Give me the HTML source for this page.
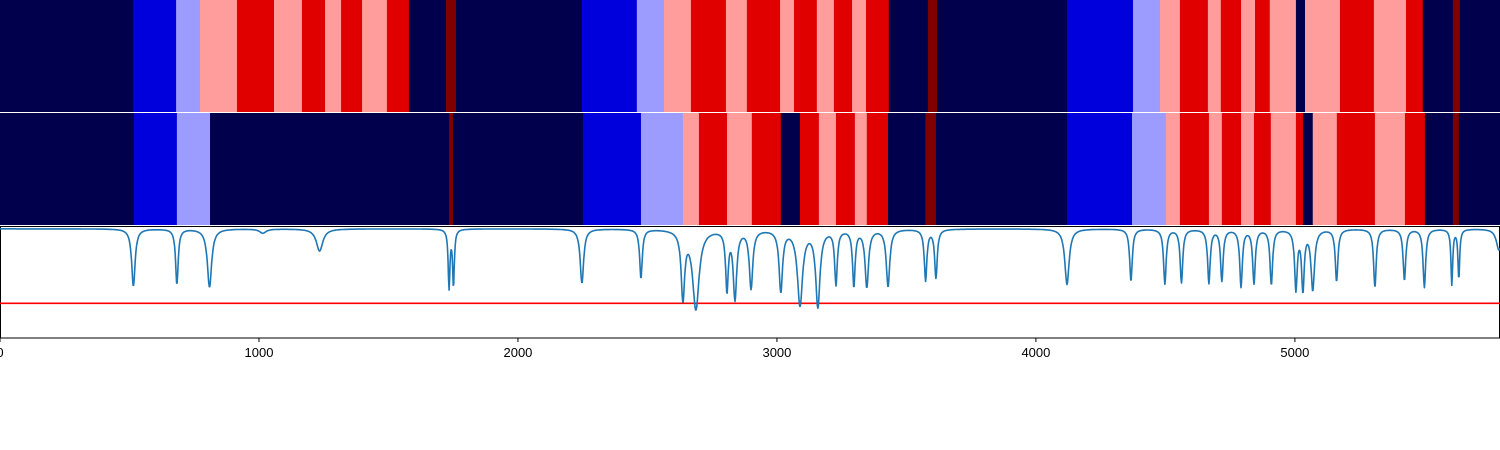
<!DOCTYPE html>
<html><head><meta charset="utf-8"><style>
body{margin:0;background:#fff;width:1500px;height:450px;overflow:hidden}
svg{display:block;font-family:"Liberation Sans",sans-serif}
</style></head><body>
<svg id="chart" width="1500" height="450" viewBox="0 0 1500 450">
<g id="row1"></g>
<g id="row2"></g>
<g id="linepanel"></g>
<g id="xaxis"></g>
</svg>
<script>
const row1Edges=[0,514,680,772,915,1058,1166,1255,1317,1398,1494,1579,1722,1761,2247,2459,2564,2668,2803,2884,3012,3066,3154,3220,3290,3344,3432,3583,3618,4120,4375,4479,4556,4664,4714,4792,4846,4903,5004,5039,5174,5305,5429,5494,5610,5637,5792];
const row1Classes=[0,1,2,3,4,3,4,3,4,3,4,0,5,0,1,2,3,4,3,4,3,4,3,4,3,4,0,5,0,1,2,3,4,3,4,3,4,3,0,3,4,3,4,0,5,0];
const row2Edges=[0,517,683,811,1734,1749,2251,2475,2637,2699,2807,2903,3015,3089,3162,3228,3301,3347,3429,3573,3614,4120,4371,4502,4556,4668,4718,4792,4842,4907,5004,5031,5069,5162,5309,5425,5502,5610,5633,5792];
const row2Classes=[0,1,2,0,5,0,1,2,3,4,3,4,0,4,3,4,3,4,0,5,0,1,2,3,4,3,4,3,4,3,4,0,3,4,3,4,0,5,0];
const peakPos=[515,683,809,1015,1234,1734,1751,2247,2475,2637,2687,2807,2838,2900,3015,3089,3158,3228,3297,3347,3429,3574,3614,4120,4367,4498,4562,4668,4718,4792,4842,4909,5004,5031,5069,5161,5309,5423,5500,5606,5633,5788];
const peakMin=[.464,.482,.455,.9375,.777,.455,.473,.491,.536,.375,.268,.446,.366,.455,.429,.304,.295,.491,.473,.464,.464,.518,.545,.478,.509,.486,.5,.495,.518,.464,.495,.482,.446,.446,.4375,.509,.455,.518,.455,.482,.536,.786];
const peakWidth=[8,6,10,15,15,4,4,8,6,8,15,6,8,8,8,12,10,6,6,8,8,6,6,10,6,6,6,6,6,6,6,6,6,6,8,6,6,6,6,4,4,12];
const baseline=0.975;
const threshold=0.31;
const xTicks=[0,1000,2000,3000,4000,5000];

const palette=['#00004c','#0000dd','#9c9cff','#ff9c9c','#e00000','#800000'];
const NS='http://www.w3.org/2000/svg';
const X0=0,X1=5792,PX0=0,PX1=1500;
const xs=v=>PX0+(v-X0)/(X1-X0)*(PX1-PX0);
const ys=v=>338-v*112;
function mk(tag,attrs,parent){const e=document.createElementNS(NS,tag);for(const k in attrs)e.setAttribute(k,attrs[k]);parent.appendChild(e);return e;}

function drawRow(g,edges,classes,y0,h,prefix){
  for(let i=0;i<classes.length;i++){
    const x=xs(edges[i]),w=xs(edges[i+1])-x;
    const r=mk('rect',{x:x,y:y0,width:w+0.5,height:h,fill:palette[classes[i]]},g);
    
    
  }
}
drawRow(document.getElementById('row1'),row1Edges,row1Classes,0,112,'row1');
drawRow(document.getElementById('row2'),row2Edges,row2Classes,113,112,'row2');

const lp=document.getElementById('linepanel');
const frame=mk('rect',{x:0.5,y:226.5,width:1499,height:111.5,fill:'#fff',stroke:'#000','stroke-width':1},lp);


const th=mk('line',{x1:0,x2:1500,y1:ys(threshold),y2:ys(threshold),stroke:'#ff0000','stroke-width':1.6},lp);


let pts=[];
for(let v=X0;v<=X1;v+=2){
  let y=baseline;
  for(let i=0;i<peakPos.length;i++){
    const d=baseline-peakMin[i],w=peakWidth[i],dx=v-peakPos[i];
    y-=d*w*w/(dx*dx+w*w);
  }
  y=Math.max(y,0.24);
  pts.push(xs(v).toFixed(1)+','+ys(y).toFixed(1));
}
const line=mk('polyline',{points:pts.join(' '),fill:'none',stroke:'#1f77b4','stroke-width':1.6,'stroke-linejoin':'round'},lp);



const xa=document.getElementById('xaxis');
xTicks.forEach(t=>{
  const tk=mk('line',{x1:xs(t),x2:xs(t),y1:338,y2:342,stroke:'#000','stroke-width':1},xa);
  
  
  const tx=mk('text',{x:xs(t),y:357,'font-size':13,'text-anchor':'middle',fill:'#000'},xa);
  tx.textContent=t;
  
  
});
</script>
</body></html>
